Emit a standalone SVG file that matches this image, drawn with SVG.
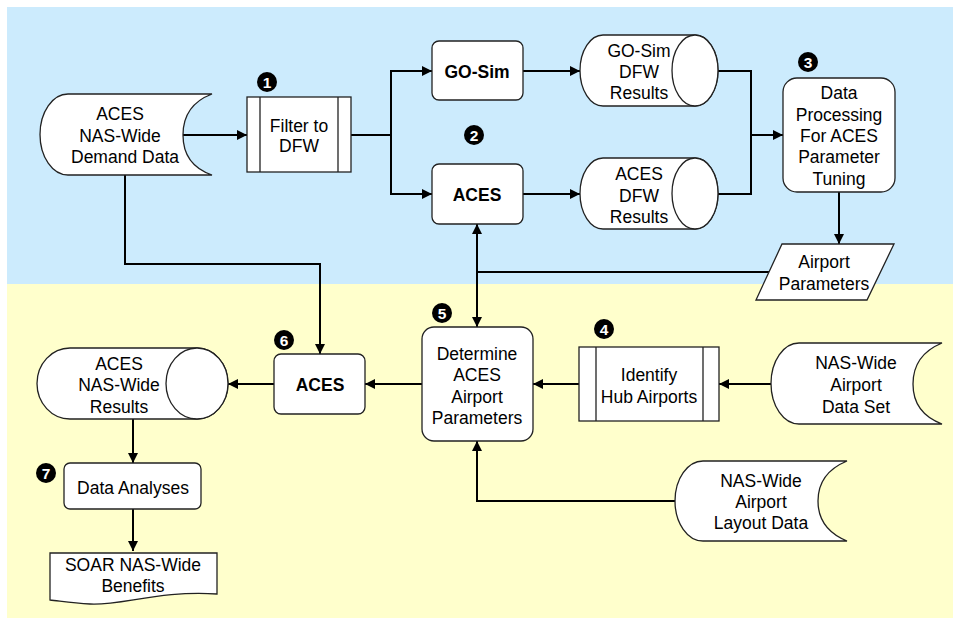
<svg xmlns="http://www.w3.org/2000/svg" width="953" height="620" viewBox="0 0 953 620">
<defs>
<marker id="arr" markerUnits="userSpaceOnUse" markerWidth="10" markerHeight="10" refX="10" refY="5" orient="auto">
<path d="M0,0 L10,5 L0,10 Z" fill="#000"/>
</marker>
<style>
.s{fill:#fff;stroke:#222;stroke-width:1.3}
.t{font-family:"Liberation Sans",Arial,sans-serif;font-size:17.5px;fill:#000;text-anchor:middle}
.b{font-weight:bold}
.c{fill:none;stroke:#000;stroke-width:2}
.a{marker-end:url(#arr)}
.bd{fill:#000}
.bn{font-family:"Liberation Sans",Arial,sans-serif;font-size:15.5px;font-weight:bold;fill:#fff;text-anchor:middle}
</style>
</defs>
<rect x="0" y="0" width="953" height="620" fill="#fff"/>
<rect x="7" y="7" width="946" height="277" fill="#CCEBFD"/>
<rect x="7" y="284" width="946" height="334" fill="#FFFFCC"/>

<g id="connectors">
<path class="c a" d="M183,135 H247"/>
<path class="c a" d="M351,135 H391 V71 H432"/>
<path class="c a" d="M391,135 V194 H432"/>
<path class="c a" d="M523,71 H580"/>
<path class="c a" d="M523,194 H580"/>
<path class="c" d="M718,71 H751 V194 H718"/>
<path class="c a" d="M751,135 H783"/>
<path class="c a" d="M839,192 V244"/>
<path class="c" d="M769,272 H477"/>
<path class="c a" d="M477,272 V224"/>
<path class="c a" d="M477,272 V327"/>
<path class="c a" d="M125,175 V264 H320 V354"/>
<path class="c a" d="M422,384 H365"/>
<path class="c a" d="M274,384 H228"/>
<path class="c a" d="M579,384 H533"/>
<path class="c a" d="M771,384 H719"/>
<path class="c a" d="M675,501 H477 V441"/>
<path class="c a" d="M133,419 V463"/>
<path class="c a" d="M133,509 V551"/>
</g>

<g id="demand-data">
<path class="s" d="M68,94 H212 Q183,105 183,135 Q183,165 212,175 H68 A28,40.5 0 0 1 68,94 Z"/>
<text class="t" x="120" y="120">ACES</text>
<text class="t" x="120" y="142">NAS-Wide</text>
<text class="t" x="125" y="163">Demand Data</text>
</g>

<g id="filter">
<rect class="s" x="247" y="97" width="104" height="75"/>
<path class="s" d="M260,97 V172 M338,97 V172"/>
<text class="t" x="299" y="132">Filter to</text>
<text class="t" x="299" y="152">DFW</text>
<circle class="bd" cx="267" cy="82" r="10"/>
<text class="bn" x="267" y="87.5">1</text>
</g>

<g id="gosim">
<rect class="s" x="432" y="41" width="91" height="59" rx="7"/>
<text class="t b" x="477" y="78">GO-Sim</text>
</g>

<g id="aces-dfw">
<rect class="s" x="432" y="164" width="91" height="60" rx="7"/>
<text class="t b" x="477" y="201">ACES</text>
<circle class="bd" cx="474" cy="135" r="10"/>
<text class="bn" x="474" y="140.5">2</text>
</g>

<g id="gosim-results">
<path class="s" d="M603,35 H695 A23,35.5 0 0 1 695,106 H603 A23,35.5 0 0 1 603,35 Z"/>
<ellipse class="s" cx="695" cy="70.5" rx="23" ry="35.5"/>
<text class="t" x="639" y="57">GO-Sim</text>
<text class="t" x="639" y="78">DFW</text>
<text class="t" x="639" y="99">Results</text>
</g>

<g id="aces-results">
<path class="s" d="M603,158 H695 A23,35.5 0 0 1 695,229 H603 A23,35.5 0 0 1 603,158 Z"/>
<ellipse class="s" cx="695" cy="193.5" rx="23" ry="35.5"/>
<text class="t" x="639" y="180">ACES</text>
<text class="t" x="639" y="202">DFW</text>
<text class="t" x="639" y="223">Results</text>
</g>

<g id="data-processing">
<rect class="s" x="783" y="78" width="112" height="114" rx="14"/>
<text class="t" x="839" y="99">Data</text>
<text class="t" x="839" y="121">Processing</text>
<text class="t" x="839" y="142">For ACES</text>
<text class="t" x="839" y="163">Parameter</text>
<text class="t" x="839" y="185">Tuning</text>
<circle class="bd" cx="808" cy="62" r="10"/>
<text class="bn" x="808" y="67.5">3</text>
</g>

<g id="airport-parameters">
<path class="s" d="M782,244 H894 L867,300 H756 Z"/>
<text class="t" x="824" y="268">Airport</text>
<text class="t" x="824" y="290">Parameters</text>
</g>

<g id="determine">
<rect class="s" x="422" y="327" width="111" height="114" rx="12"/>
<text class="t" x="477" y="360">Determine</text>
<text class="t" x="477" y="381">ACES</text>
<text class="t" x="477" y="403">Airport</text>
<text class="t" x="477" y="424">Parameters</text>
<circle class="bd" cx="442" cy="313" r="10"/>
<text class="bn" x="442" y="318.5">5</text>
</g>

<g id="identify">
<rect class="s" x="579" y="347" width="140" height="74"/>
<path class="s" d="M596,347 V421 M703,347 V421"/>
<text class="t" x="649" y="381">Identify</text>
<text class="t" x="649" y="403">Hub Airports</text>
<circle class="bd" cx="604" cy="329" r="10"/>
<text class="bn" x="604" y="334.5">4</text>
</g>

<g id="airport-data-set">
<path class="s" d="M799,343 H942 Q913,355 913,384 Q913,413 942,424 H799 A28,40.5 0 0 1 799,343 Z"/>
<text class="t" x="856" y="369">NAS-Wide</text>
<text class="t" x="856" y="391">Airport</text>
<text class="t" x="856" y="413">Data Set</text>
</g>

<g id="layout-data">
<path class="s" d="M703,461 H847 Q818,473 818,501 Q818,529 847,541 H703 A28,40 0 0 1 703,461 Z"/>
<text class="t" x="761" y="487">NAS-Wide</text>
<text class="t" x="761" y="508">Airport</text>
<text class="t" x="761" y="529">Layout Data</text>
</g>

<g id="aces-nas">
<rect class="s" x="274" y="354" width="91" height="60" rx="7"/>
<text class="t b" x="320" y="391">ACES</text>
<circle class="bd" cx="284" cy="340" r="10"/>
<text class="bn" x="284" y="345.5">6</text>
</g>

<g id="nas-results">
<path class="s" d="M70,348 H197 A31,35.5 0 0 1 197,419 H70 A33,35.5 0 0 1 70,348 Z"/>
<ellipse class="s" cx="197" cy="383.5" rx="31" ry="35.5"/>
<text class="t" x="119" y="370">ACES</text>
<text class="t" x="119" y="391">NAS-Wide</text>
<text class="t" x="119" y="413">Results</text>
</g>

<g id="data-analyses">
<rect class="s" x="64" y="463" width="137" height="46" rx="6"/>
<text class="t" x="133" y="494">Data Analyses</text>
<circle class="bd" cx="46" cy="473" r="10"/>
<text class="bn" x="46" y="478.5">7</text>
</g>

<g id="soar-benefits">
<path class="s" d="M50,553 H217 V594 C160,590 120,606 90,604 C72,603 60,601 50,600 Z"/>
<text class="t" x="133" y="571">SOAR NAS-Wide</text>
<text class="t" x="133" y="592">Benefits</text>
</g>
</svg>
